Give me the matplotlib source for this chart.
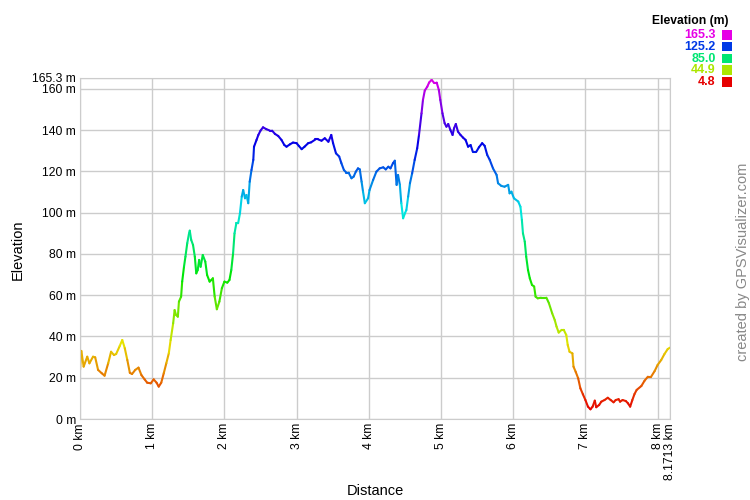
import numpy as np
import matplotlib
matplotlib.use("Agg")
import matplotlib.pyplot as plt
from matplotlib.collections import LineCollection
from matplotlib.colors import hsv_to_rgb

plt.rcParams['font.family'] = ['Liberation Sans', 'DejaVu Sans']

# track profile: distance (km) and elevation (m)
dist_km = [0.0, 0.018, 0.05, 0.10, 0.13, 0.18, 0.21, 0.25, 0.30, 0.34, 0.39, 0.43, 0.47, 0.50,
           0.55, 0.585, 0.62, 0.655, 0.69, 0.72, 0.765, 0.81, 0.85, 0.895, 0.93, 0.98, 1.02,
           1.06, 1.09, 1.125, 1.16, 1.195, 1.23, 1.255, 1.29, 1.31, 1.33, 1.355, 1.37, 1.40,
           1.415, 1.44, 1.46, 1.485, 1.51, 1.52, 1.54, 1.565, 1.59, 1.61, 1.63, 1.65, 1.67,
           1.70, 1.735, 1.76, 1.795, 1.82, 1.84, 1.865, 1.895, 1.93, 1.965, 2.0, 2.04, 2.07,
           2.095, 2.12, 2.14, 2.165, 2.19, 2.215, 2.24, 2.26, 2.285, 2.305, 2.33, 2.35, 2.375,
           2.40, 2.41, 2.445, 2.47, 2.50, 2.535, 2.58, 2.63, 2.66, 2.70, 2.745, 2.79, 2.83,
           2.86, 2.91, 2.95, 3.0, 3.03, 3.07, 3.11, 3.16, 3.20, 3.26, 3.30, 3.345, 3.39, 3.44,
           3.48, 3.505, 3.545, 3.59, 3.62, 3.655, 3.69, 3.72, 3.76, 3.79, 3.82, 3.85, 3.875,
           3.90, 3.92, 3.945, 3.99, 4.01, 4.06, 4.105, 4.15, 4.20, 4.235, 4.27, 4.30, 4.335,
           4.36, 4.385, 4.405, 4.43, 4.45, 4.475, 4.50, 4.52, 4.545, 4.57, 4.60, 4.635, 4.67,
           4.695, 4.73, 4.75, 4.775, 4.81, 4.835, 4.87, 4.90, 4.94, 4.97, 4.99, 5.02, 5.05,
           5.075, 5.10, 5.13, 5.16, 5.18, 5.205, 5.235, 5.27, 5.305, 5.34, 5.375, 5.41, 5.44,
           5.49, 5.525, 5.57, 5.605, 5.64, 5.675, 5.72, 5.77, 5.79, 5.835, 5.88, 5.93, 5.95,
           5.975, 6.01, 6.07, 6.10, 6.12, 6.135, 6.16, 6.18, 6.205, 6.23, 6.26, 6.29, 6.31,
           6.34, 6.385, 6.43, 6.46, 6.495, 6.54, 6.575, 6.60, 6.63, 6.67, 6.70, 6.735, 6.755,
           6.78, 6.82, 6.835, 6.865, 6.90, 6.93, 6.965, 7.0, 7.035, 7.07, 7.10, 7.13, 7.15,
           7.19, 7.22, 7.265, 7.31, 7.35, 7.39, 7.42, 7.46, 7.48, 7.515, 7.56, 7.59, 7.62,
           7.65, 7.68, 7.71, 7.775, 7.82, 7.865, 7.91, 7.96, 8.0, 8.05, 8.095, 8.14, 8.1713]
elev_m = [23.8, 33.0, 25.4, 30.2, 27.0, 30.2, 29.9, 23.8, 22.2, 21.0, 27.0, 32.6, 31.0, 31.5,
          35.4, 38.3, 34.3, 28.6, 22.4, 21.8, 23.8, 24.9, 21.3, 19.2, 17.6, 17.3, 19.2,
          17.6, 15.7, 17.6, 22.2, 27.0, 31.9, 38.3, 46.4, 52.8, 50.4, 49.6, 56.9, 59.3,
          66.6, 73.8, 78.7, 85.2, 90.0, 91.3, 86.8, 84.4, 78.7, 70.6, 72.2, 77.1, 73.8,
          79.5, 76.3, 69.8, 66.6, 67.4, 68.2, 59.3, 53.2, 56.9, 63.4, 66.6, 66.1, 67.4,
          72.2, 80.3, 90.0, 94.9, 94.9, 99.7, 107.8, 111.0, 107.0, 108.6, 104.6, 115.0, 120.7,
          125.6, 132.0, 135.3, 137.7, 139.8, 141.4, 140.5, 139.8, 139.8, 138.2, 137.2, 135.3, 132.8,
          132.0, 133.2, 134.0, 133.7, 132.4, 130.8, 132.0, 133.7, 134.1, 135.5, 135.5, 134.9, 136.1, 134.4,
          137.7, 133.7, 128.8, 127.2, 124.0, 120.7, 119.4, 119.4, 116.7, 117.5, 119.9, 121.5, 121.0,
          115.0, 110.2, 104.6, 107.0, 111.0, 115.9, 119.9, 121.5, 122.0, 121.0, 122.3, 121.5, 124.0,
          125.2, 113.5, 118.3, 113.5, 104.6, 97.3, 99.7, 101.3, 107.8, 114.3, 119.1, 125.6, 131.2,
          137.7, 148.2, 154.7, 159.2, 161.1, 163.1, 164.4, 163.1, 163.1, 159.5, 154.7, 148.2, 143.4,
          141.7, 143.0, 140.1, 137.7, 140.9, 143.0, 139.3, 137.7, 136.4, 135.3, 132.0, 132.8, 129.6,
          129.6, 131.7, 133.7, 132.4, 128.0, 125.6, 121.5, 118.3, 114.3, 113.0, 112.6, 113.5, 109.4,
          110.2, 107.0, 105.4, 102.9, 96.5, 90.0, 86.0, 78.7, 72.2, 68.2, 65.0, 64.2, 59.3,
          58.5, 58.8, 58.8, 58.8, 56.1, 51.2, 48.0, 44.8, 41.9, 43.2, 43.2, 40.7, 35.9,
          32.6, 31.8, 25.4, 22.9, 19.7, 14.9, 12.0, 9.2, 6.0, 4.7, 6.0, 8.9, 5.7,
          6.8, 8.4, 9.2, 10.3, 9.2, 8.1, 9.2, 9.6, 8.4, 9.2, 8.7, 7.6, 6.0,
          9.2, 12.1, 14.1, 16.0, 18.6, 20.5, 20.5, 23.3, 26.2, 28.6, 31.5, 33.9, 34.6]

legend_vals = [165.3, 125.2, 85.0, 44.9, 4.8]
y_ticks = [0, 20, 40, 60, 80, 100, 120, 140, 160]
x_ticks = [0, 1, 2, 3, 4, 5, 6, 7, 8]
e_min, e_max = 4.8, 165.3
total_km = 8.1713


def elev_color(e):
    f = np.clip((e - e_min) / (e_max - e_min), 0, 1)
    return hsv_to_rgb([f * 300 / 360, 1.0, 0.9])


fig = plt.figure(figsize=(7.5, 5), dpi=100)
ax = fig.add_axes([0.1067, 0.162, 0.7866, 0.682])

x = np.array(dist_km)
y = np.array(elev_m)
pts = np.column_stack([x, y]).reshape(-1, 1, 2)
segs = np.concatenate([pts[:-1], pts[1:]], axis=1)
cols = [elev_color((a + b) / 2) for a, b in zip(y[:-1], y[1:])]
ax.add_collection(LineCollection(segs, colors=cols, linewidths=1.5, capstyle='round'))

ax.set_xlim(0, total_km)
ax.set_ylim(0, e_max)
ax.set_yticks(y_ticks + [e_max])
ax.set_yticklabels([f"{v} m" for v in y_ticks] + ["165.3 m"])
ax.set_xticks(x_ticks + [total_km])
ax.set_xticklabels([f"{v} km" for v in x_ticks] + ["8.1713 km"], rotation=90)
ax.tick_params(length=0, labelsize=8.7, pad=3)
ax.grid(True, color='#cccccc', linewidth=1)
ax.set_axisbelow(True)
for s in ax.spines.values():
    s.set_color('#cccccc')

fig.text(0.024, 0.5, "Elevation", rotation=90, fontsize=10.5, va='center', ha='center')
fig.text(0.5, 0.018, "Distance", fontsize=10.5, ha='center', va='center')
fig.text(0.99, 0.476, "created by GPSVisualizer.com", rotation=90, fontsize=10.5,
         color='#888888', ha='center', va='center')

# legend
fig.text(0.971, 0.958, "Elevation (m)", fontsize=8.7, fontweight='bold', ha='right', va='center')
for i, v in enumerate(legend_vals):
    yy = 0.93 - i * 0.0235
    c = elev_color(v)
    fig.text(0.954, yy, f"{v:.1f}", fontsize=9, fontweight='bold', color=c, ha='right', va='center')
    fig.patches.append(plt.Rectangle((0.963, yy - 0.0095), 0.013, 0.019, transform=fig.transFigure,
                                     facecolor=c, edgecolor='none'))

fig.savefig("out.png", dpi=100)
